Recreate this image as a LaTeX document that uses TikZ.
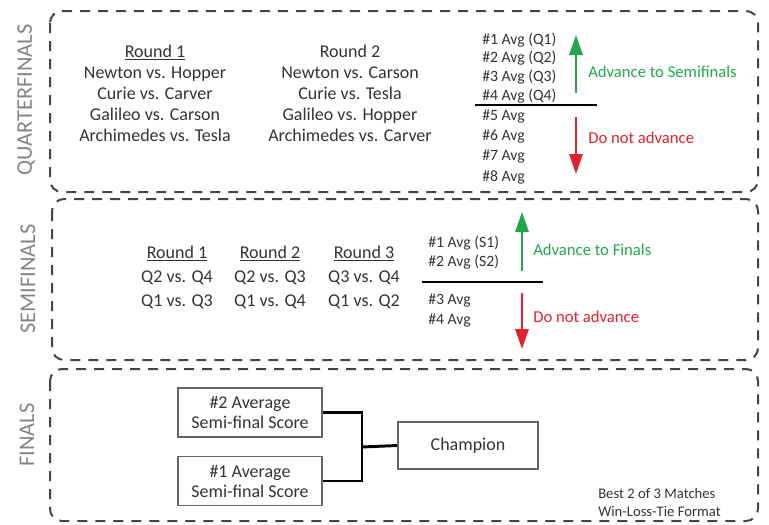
\documentclass[tikz,border=0pt]{standalone}
\usepackage{fontspec}
\setmainfont{Carlito}
\usetikzlibrary{arrows.meta}
\definecolor{txtgray}{HTML}{333333}
\definecolor{dashgray}{HTML}{444444}
\definecolor{phasegray}{HTML}{858585}
\definecolor{gogreen}{HTML}{22A84A}
\definecolor{stopred}{HTML}{E2222E}

\begin{document}
\begin{tikzpicture}[x=0.75pt,y=-0.75pt,text=txtgray,
  panel/.style={draw=dashgray,line width=1.5pt,dash pattern=on 7.5pt off 6pt,rounded corners=9pt},
  phase/.style={rotate=90,text=phasegray,font=\fontsize{16.8}{20}\selectfont},
  rounds/.style={align=center,font=\fontsize{13.5}{15.75}\selectfont},
  semirounds/.style={align=center,font=\fontsize{13.5}{18}\selectfont},
  avg/.style={anchor=west,inner sep=0pt,font=\fontsize{11.8}{13}\selectfont},
  cut/.style={line width=1.6pt,black},
  goarrow/.style={draw=gogreen,line width=1.5pt,-{Triangle[width=10pt,length=15pt]}},
  stoparrow/.style={draw=stopred,line width=1.5pt,-{Triangle[width=10pt,length=15pt]}},
  note/.style={anchor=west,inner sep=0pt,font=\fontsize{12.5}{14}\selectfont},
  seedbox/.style={draw=gray!80!black,line width=1.2pt,align=center,
    minimum width=108pt,minimum height=36.5pt,inner sep=1pt,
    font=\fontsize{13.5}{15}\selectfont}]
  \useasboundingbox (0,0) rectangle (769,525);

  % three stages
  \draw[panel] (50,11) rectangle (758,192);
  \draw[panel] (52,199) rectangle (758,360);
  \draw[panel] (50,369) rectangle (758,521);
  \node[phase] (qlab) at (26,100) {QUARTERFINALS};
  \node[phase] (slab) at (28,279) {SEMIFINALS};
  \node[phase] (flab) at (27,435) {FINALS};

  % quarterfinals
  \node[rounds] (qr1) at (155,93.5) {\underline{Round 1}\\Newton vs. Hopper\\Curie vs. Carver\\Galileo vs. Carson\\Archimedes vs. Tesla};
  \node[rounds] (qr2) at (350,93.5) {Round 2\\Newton vs. Carson\\Curie vs. Tesla\\Galileo vs. Hopper\\Archimedes vs. Carver};
  \foreach \i/\y/\txt in {1/40/{\#1 Avg (Q1)},2/58.5/{\#2 Avg (Q2)},3/77/{\#3 Avg (Q3)},4/96/{\#4 Avg (Q4)},
    5/117/{\#5 Avg},6/137/{\#6 Avg},7/157/{\#7 Avg},8/177/{\#8 Avg}}
    \node[avg] (qa\i) at (482,\y) {\txt};
  \coordinate (qcutl) at (475,105);
  \coordinate (qcutr) at (597,105);
  \draw[cut] (qcutl) -- (qcutr);
  \coordinate (qup0) at (576,93);
  \coordinate (qup1) at (576,35);
  \coordinate (qdn0) at (576,117);
  \coordinate (qdn1) at (576,174);
  \draw[goarrow] (qup0) -- (qup1);
  \draw[stoparrow] (qdn0) -- (qdn1);
  \node[note,text=gogreen] (qgo) at (588,72) {Advance to Semifinals};
  \node[note,text=stopred] (qstop) at (588,138) {Do not advance};

  % semifinals
  \node[semirounds] (sr1) at (177,277.5) {\underline{Round 1}\\Q2 vs. Q4\\Q1 vs. Q3};
  \node[semirounds] (sr2) at (270,277.5) {\underline{Round 2}\\Q2 vs. Q3\\Q1 vs. Q4};
  \node[semirounds] (sr3) at (364,277.5) {\underline{Round 3}\\Q3 vs. Q4\\Q1 vs. Q2};
  \foreach \i/\y/\txt in {1/243/{\#1 Avg (S1)},2/262/{\#2 Avg (S2)},3/301/{\#3 Avg},4/321/{\#4 Avg}}
    \node[avg] (sa\i) at (428,\y) {\txt};
  \coordinate (scutl) at (422,282);
  \coordinate (scutr) at (543,282);
  \draw[cut] (scutl) -- (scutr);
  \coordinate (sup0) at (522,271);
  \coordinate (sup1) at (522,212);
  \coordinate (sdn0) at (522,293);
  \coordinate (sdn1) at (522,349);
  \draw[goarrow] (sup0) -- (sup1);
  \draw[stoparrow] (sdn0) -- (sdn1);
  \node[note,text=gogreen] (sgo) at (533,250) {Advance to Finals};
  \node[note,text=stopred] (sstop) at (533,317) {Do not advance};

  % finals
  \node[seedbox] (seed2) at (250,412.5) {\#2 Average\\Semi-final Score};
  \node[seedbox] (seed1) at (250,481) {\#1 Average\\Semi-final Score};
  \node[seedbox,minimum width=105pt,minimum height=35pt] (champ) at (468,445.5) {Champion};
  \coordinate (join) at (362,447);
  \draw[line width=2.2pt] (seed2.east) -| (join) |- (seed1.east);
  \draw[line width=2.2pt] (join) -- (champ.west);
  \node[note,font=\fontsize{11}{13}\selectfont] (best) at (598,493) {Best 2 of 3 Matches};
  \node[note,font=\fontsize{11}{13}\selectfont] (fmt) at (598,512) {Win-Loss-Tie Format};
\end{tikzpicture}
\end{document}
